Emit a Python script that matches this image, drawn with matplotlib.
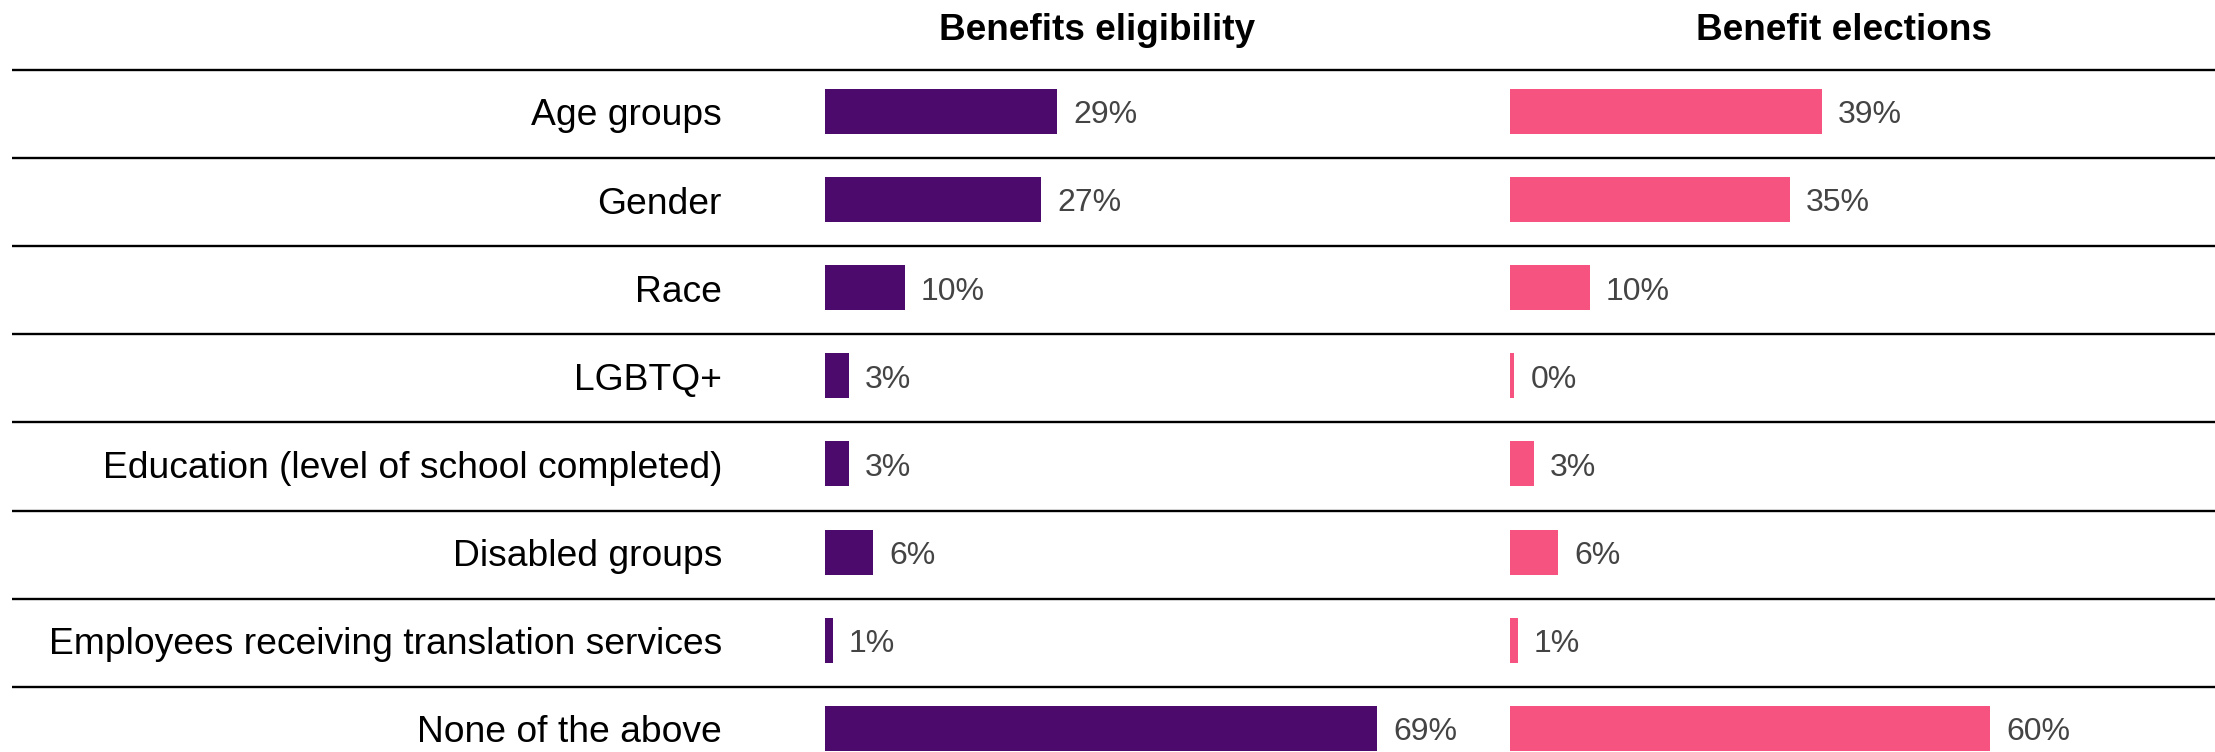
import matplotlib
matplotlib.use("Agg")
import matplotlib.pyplot as plt
import numpy as np

plt.rcParams["font.family"] = ["Liberation Sans", "DejaVu Sans"]

categories = [
    "Age groups",
    "Gender",
    "Race",
    "LGBTQ+",
    "Education (level of school completed)",
    "Disabled groups",
    "Employees receiving translation services",
    "None of the above",
]
eligibility = [29, 27, 10, 3, 3, 6, 1, 69]
elections = [39, 35, 10, 0, 3, 6, 1, 60]
panel_titles = ["Benefits eligibility", "Benefit elections"]

purple = "#4b0a6c"
pink = "#f75380"

W, H = 2215, 752
fig = plt.figure(figsize=(W / 100, H / 100), dpi=100)

# row geometry (pixels from top): first separator at 70, rows 88.14 px apart
row_h = 88.14
first_center = 114
ylim = ((H - first_center) / row_h, (0 - first_center) / row_h)

# background axes for separators and category labels
bg = fig.add_axes([0, 0, 1, 1])
bg.set_xlim(0, W)
bg.set_ylim(*ylim)
bg.axis("off")
y = np.arange(len(categories))
for yy in y:
    bg.plot([12, W], [yy - 0.5, yy - 0.5], color="black", lw=1.7, solid_capstyle="butt")
for yy, cat in zip(y, categories):
    bg.text(722, yy + 0.13, cat, ha="right", va="baseline", fontsize=26.8, color="black")

px_per_pct = 8.0
panel_w = 80
panels = [(825, eligibility, purple, 34.0), (1510, elections, pink, 41.8)]
for (left, vals, color, title_x), title in zip(panels, panel_titles):
    ax = fig.add_axes([left / W, 0, panel_w * px_per_pct / W, 1])
    ax.set_xlim(0, panel_w)
    ax.set_ylim(*ylim)
    ax.axis("off")
    vals = np.array(vals, dtype=float)
    ax.barh(y - 0.03, np.maximum(vals, 0.55), height=0.51, color=color)
    for yy, v in zip(y, vals):
        ax.text(max(v, 0.55) + 2.0, yy + 0.105, f"{v:.0f}%", ha="left", va="baseline",
                fontsize=23, color="#444444")
    ax.text(title_x, -0.84, title, ha="center", va="baseline", fontsize=26.6,
            fontweight="bold", color="black")

fig.savefig("out.png", dpi=100)
